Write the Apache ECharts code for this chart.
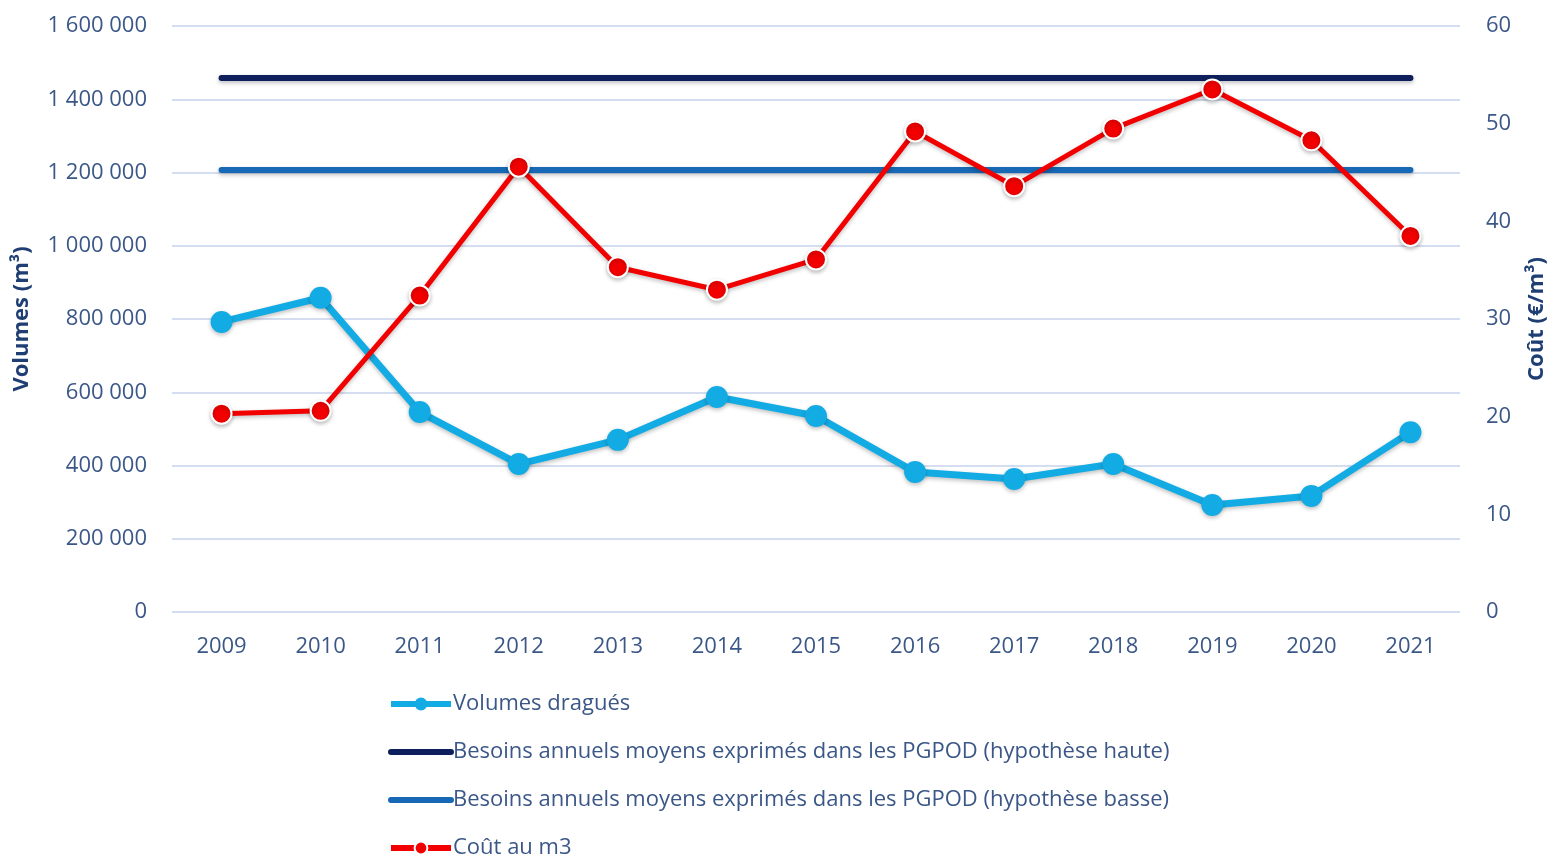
<!DOCTYPE html>
<html>
<head>
<meta charset="utf-8">
<script src="https://cdn.jsdelivr.net/npm/echarts@6/dist/echarts.min.js"></script>
<style>
  html, body { margin: 0; padding: 0; background: #fff; }
  #chart { width: 1550px; height: 857px; }
</style>
</head>
<body>
<div id="chart"></div>
<script>
const years = ['2009', '2010', '2011', '2012', '2013', '2014', '2015', '2016', '2017', '2018', '2019', '2020', '2021'];
const volumesDragues = [792000, 858000, 546000, 404000, 470000, 587000, 535000, 382000, 363000, 404000, 292000, 317000, 491000];
const besoinsHaute = [1458000, 1458000, 1458000, 1458000, 1458000, 1458000, 1458000, 1458000, 1458000, 1458000, 1458000, 1458000, 1458000];
const besoinsBasse = [1207000, 1207000, 1207000, 1207000, 1207000, 1207000, 1207000, 1207000, 1207000, 1207000, 1207000, 1207000, 1207000];
const coutM3 = [20.3, 20.6, 32.4, 45.6, 35.3, 33.0, 36.1, 49.2, 43.6, 49.5, 53.5, 48.3, 38.5];

const textColor = '#3b5787';
const nameColor = '#1f3f74';
const gridColor = '#d5def0';
const font = 'Open Sans';

const nomHaute = 'Besoins annuels moyens exprimés dans les PGPOD (hypothèse haute)';
const nomBasse = 'Besoins annuels moyens exprimés dans les PGPOD (hypothèse basse)';

const chart = echarts.init(document.getElementById('chart'));

// séparateur de milliers avec espace, comme dans l'original
function fmtVol(v) {
  return String(v).replace(/\B(?=(\d{3})+(?!\d))/g, ' ');
}

const lineShadow = {
  shadowColor: 'rgba(0,0,0,0.25)',
  shadowBlur: 4,
  shadowOffsetY: 2
};

const options = {
  animation: false,
  grid: { left: 172, right: 90, top: 26, bottom: 245, outerBoundsMode: 'none', containLabel: false },
  legend: {
    orient: 'vertical',
    left: 388,
    top: 693,
    height: 300,
    padding: 0,
    itemWidth: 60,
    itemHeight: 16,
    itemGap: 26,
    lineStyle: { width: 6 },
    textStyle: { fontFamily: font, fontSize: 22, lineHeight: 20, color: textColor, padding: [0, 0, 0, -3] },
    data: [
      { name: 'Volumes dragués' },
      { name: nomHaute, itemStyle: { opacity: 0 } },
      { name: nomBasse, itemStyle: { opacity: 0 } },
      { name: 'Coût au m3' }
    ]
  },
  xAxis: {
    type: 'category',
    data: years,
    boundaryGap: true,
    axisLine: { show: false },
    axisTick: { show: false },
    axisLabel: { fontFamily: font, fontSize: 22, color: textColor, margin: 24 }
  },
  yAxis: [
    {
      type: 'value',
      min: 0,
      max: 1600000,
      interval: 200000,
      name: 'Volumes (m³)',
      nameLocation: 'middle',
      nameRotate: 90,
      nameGap: 139,
      nameTextStyle: { fontFamily: font, fontSize: 22, fontWeight: 'bold', color: nameColor },
      axisLine: { show: false },
      axisTick: { show: false },
      axisLabel: { fontFamily: font, fontSize: 22, color: textColor, margin: 25, formatter: fmtVol },
      splitLine: { lineStyle: { color: gridColor, width: 2 } }
    },
    {
      type: 'value',
      min: 0,
      max: 60,
      interval: 10,
      position: 'right',
      name: 'Coût (€/m³)',
      nameLocation: 'middle',
      nameRotate: 90,
      nameGap: 66,
      nameTextStyle: { fontFamily: font, fontSize: 22, fontWeight: 'bold', color: nameColor },
      axisLine: { show: false },
      axisTick: { show: false },
      axisLabel: { fontFamily: font, fontSize: 22, color: textColor, margin: 26 },
      splitLine: { show: false }
    }
  ],
  series: [
    {
      name: nomHaute,
      type: 'line',
      data: besoinsHaute,
      symbol: 'none',
      lineStyle: Object.assign({ color: '#0e1f5b', width: 6, cap: 'round' }, lineShadow),
      itemStyle: { color: '#0e1f5b' },
      z: 2
    },
    {
      name: nomBasse,
      type: 'line',
      data: besoinsBasse,
      symbol: 'none',
      lineStyle: Object.assign({ color: '#1769b5', width: 6, cap: 'round' }, lineShadow),
      itemStyle: { color: '#1769b5' },
      z: 2
    },
    {
      name: 'Volumes dragués',
      type: 'line',
      data: volumesDragues,
      symbol: 'circle',
      symbolSize: 22,
      lineStyle: Object.assign({ color: '#13abe4', width: 7 }, lineShadow),
      itemStyle: Object.assign({ color: '#13abe4' }, lineShadow),
      z: 3
    },
    {
      name: 'Coût au m3',
      type: 'line',
      yAxisIndex: 1,
      data: coutM3,
      symbol: 'circle',
      symbolSize: 20,
      lineStyle: Object.assign({ color: '#f20000', width: 5 }, lineShadow),
      itemStyle: Object.assign({ color: '#f20000', borderColor: '#ffffff', borderWidth: 2 }, lineShadow),
      z: 4
    }
  ]
};

chart.setOption(options);
</script>
</body>
</html>
